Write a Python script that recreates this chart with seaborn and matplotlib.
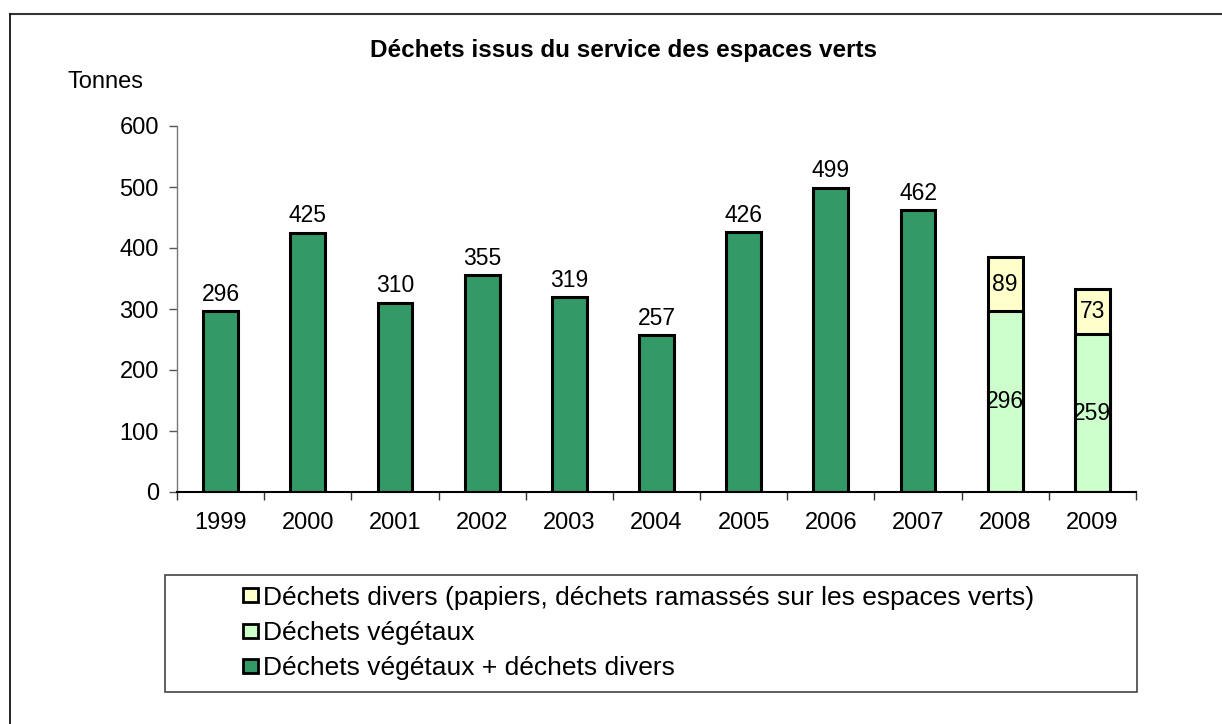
import numpy as np
import pandas as pd
import seaborn as sns
import matplotlib.pyplot as plt
from matplotlib.patches import Rectangle, Patch
from matplotlib.lines import Line2D

# data
years = ["1999", "2000", "2001", "2002", "2003", "2004", "2005", "2006", "2007", "2008", "2009"]
combined = [296, 425, 310, 355, 319, 257, 426, 499, 462, np.nan, np.nan]
vegetal = [np.nan] * 9 + [296, 259]
divers = [np.nan] * 9 + [89, 73]

label_div = "Déchets divers (papiers, déchets ramassés sur les espaces verts)"
label_veg = "Déchets végétaux"
label_comb = "Déchets végétaux + déchets divers"

c_dark = "#339966"
c_light = "#CCFFCC"
c_yellow = "#FFFFCC"

sns.set_style("white")
plt.rcParams["font.family"] = ["Liberation Sans", "DejaVu Sans"]
plt.rcParams["text.color"] = "black"
plt.rcParams["xtick.labelcolor"] = "black"
plt.rcParams["ytick.labelcolor"] = "black"

df = pd.DataFrame({"year": years, "combined": combined, "vegetal": vegetal, "divers": divers})
df["total"] = df["vegetal"] + df["divers"]

fig = plt.figure(figsize=(12.22, 7.24), dpi=100)
ax = fig.add_axes([177 / 1222, 1 - 492 / 724, (1136 - 177) / 1222, (492 - 126) / 724])

kw = dict(x="year", order=years, width=0.4, edgecolor="black", linewidth=2.2, ax=ax)
sns.barplot(data=df, y="combined", color=c_dark, saturation=1, **kw)
sns.barplot(data=df, y="total", color=c_yellow, saturation=1, **kw)
sns.barplot(data=df, y="vegetal", color=c_light, saturation=1, **kw)

# value labels
fs = 16.5
for i, v in enumerate(combined):
    if not np.isnan(v):
        ax.annotate(f"{int(v)}", (i, v), xytext=(0, 4), textcoords="offset points",
                    ha="center", va="bottom", fontsize=fs)
for i in range(len(years)):
    if not np.isnan(vegetal[i]):
        ax.text(i, vegetal[i] / 2, f"{int(vegetal[i])}", ha="center", va="center", fontsize=fs)
        ax.text(i, vegetal[i] + divers[i] / 2, f"{int(divers[i])}", ha="center", va="center", fontsize=fs)

ax.set_ylim(0, 600)
ax.set_xlim(-0.5, len(years) - 0.5)
ax.set_yticks(range(0, 601, 100))
ax.set_xlabel("")
ax.set_ylabel("")
ax.tick_params(axis="y", which="major", left=True, length=6, width=1, color="#555555",
               labelsize=17, pad=7)
ax.tick_params(axis="x", which="major", bottom=False, labelsize=17, pad=11)
ax.set_xticks(np.arange(-0.5, len(years), 1), minor=True)
ax.tick_params(axis="x", which="minor", bottom=True, length=6, width=1, color="#333333")
for s in ["top", "right"]:
    ax.spines[s].set_visible(False)
ax.spines["left"].set_color("#777777")
ax.spines["left"].set_linewidth(1)
ax.spines["bottom"].set_color("black")
ax.spines["bottom"].set_linewidth(1.5)

fig.text(623 / 1222, 1 - 50 / 724, "Déchets issus du service des espaces verts",
         ha="center", va="center", fontsize=17.5, fontweight="bold")
fig.text(68 / 1222, 1 - 82 / 724, "Tonnes", ha="left", va="center", fontsize=17)

# outer frame (top and left edges visible)
fig.add_artist(Line2D([10 / 1222, 1], [1 - 14 / 724, 1 - 14 / 724], color="#333333", lw=1.5))
fig.add_artist(Line2D([10 / 1222, 10 / 1222], [0, 1 - 14 / 724], color="black", lw=1.2))

# legend box
fig.add_artist(Rectangle((165 / 1222, 1 - 692 / 724), (1137 - 165) / 1222, (692 - 575) / 724,
                         transform=fig.transFigure, fill=False, edgecolor="#444444", lw=1.2))
handles = [Patch(facecolor=c_yellow, edgecolor="black", lw=2),
           Patch(facecolor=c_light, edgecolor="black", lw=2),
           Patch(facecolor=c_dark, edgecolor="black", lw=2)]
fig.legend(handles, [label_div, label_veg, label_comb], loc="center left",
           bbox_to_anchor=(243 / 1222, 1 - 633 / 724), frameon=False, fontsize=19,
           handlelength=0.55, handleheight=0.45, handletextpad=0.2, labelspacing=0.43,
           borderpad=0, borderaxespad=0)

fig.savefig("out.png", dpi=100)
